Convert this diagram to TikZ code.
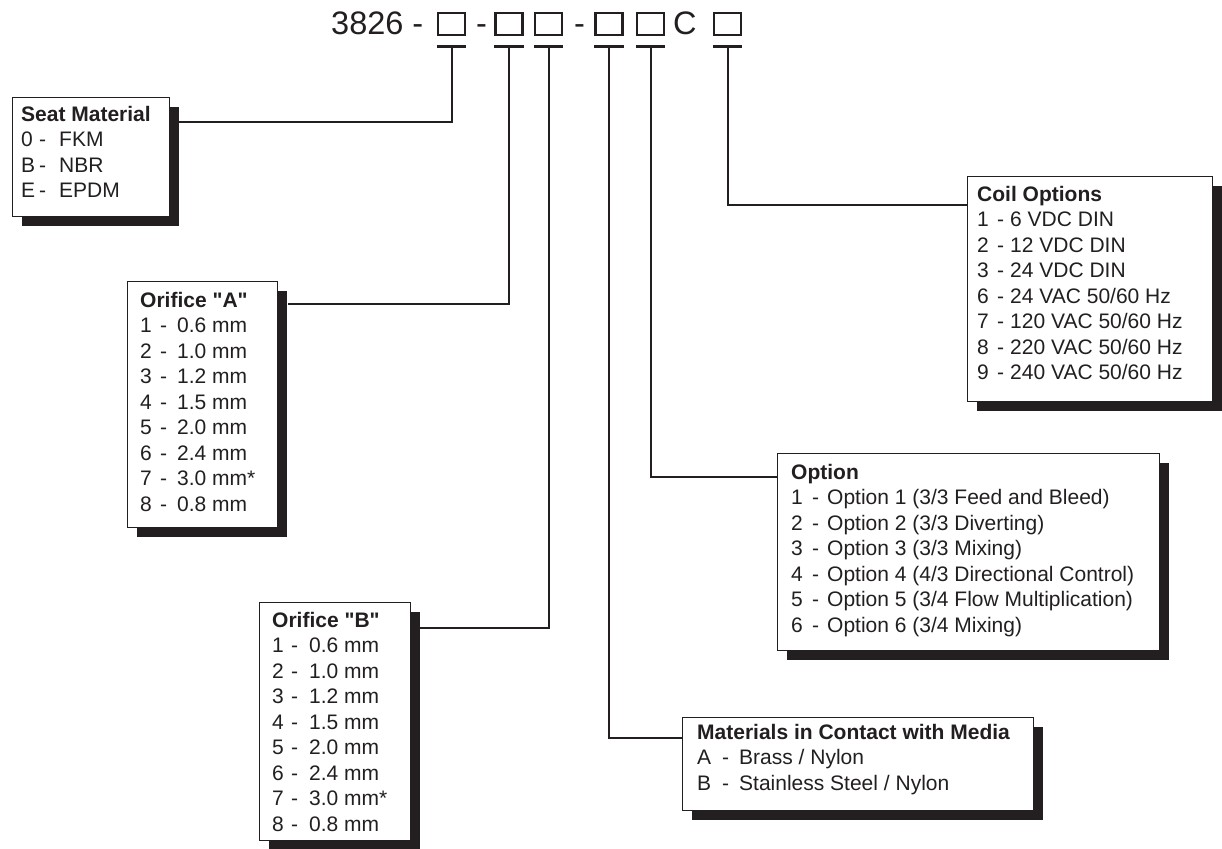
\documentclass[tikz,border=0pt]{standalone}
\usepackage{fontspec}
\setmainfont{Liberation Sans}
\usetikzlibrary{positioning, shadows, calc}
\definecolor{inkgray}{HTML}{231F20}

\newlength\keyw
\newlength\keyg
\newcommand{\sel}[2]{\makebox[\keyw][l]{#1}-\hspace{\keyg}#2}

\tikzset{
  listbox/.style={draw=inkgray, line width=1.2pt, fill=white, anchor=north west, inner sep=0pt,
    drop shadow={shadow xshift=9pt, shadow yshift=-9pt, opacity=1, fill=inkgray}},
  listtext/.style 2 args={anchor=north west, align=left, inner sep=0pt, text=inkgray,
    font=\fontsize{21}{25.5}\selectfont,
    execute at begin node={\setlength{\keyw}{#1}\setlength{\keyg}{#2}}},
  codebox/.style={draw=inkgray, line width=2.2pt, minimum width=27pt, minimum height=22pt, inner sep=0pt},
  codetext/.style={anchor=base west, inner sep=0pt, text=inkgray, font=\fontsize{32.5}{38}\selectfont},
  leader/.style={draw=inkgray, line width=2pt},
  tbar/.style={draw=inkgray, line width=3pt}
}

\begin{document}
\begin{tikzpicture}[x=1pt, y=-1pt]
  \useasboundingbox (0,0) rectangle (1222,848);

  % Bestellschluessel oben
  \node[codetext] (code) at (331,35) {3826 -};
  \node[codebox] (sq1) at (451.5,24) {};
  \node[codetext] (dash1) at (476,35) {-};
  \node[codebox] (sq2) at (509,24) {};
  \node[codebox] (sq3) at (548.5,24) {};
  \node[codetext] (dash2) at (574,35) {-};
  \node[codebox] (sq4) at (609,24) {};
  \node[codebox] (sq5) at (650.5,24) {};
  \node[codetext] (coil) at (673,35) {C};
  \node[codebox] (sq6) at (727.5,24) {};

  % T-Balken unter den Feldern
  \foreach \s in {sq1,sq2,sq3,sq4,sq5,sq6}
    \draw[tbar] ([yshift=-10pt]\s.south west) -- ([yshift=-10pt]\s.south east);

  % Kaesten
  \node[listbox, minimum width=157pt, minimum height=119pt] (seat) at (12,97) {};
  \node[listtext={18pt}{13pt}] (seatT) at (21,106) {\textbf{Seat Material}\\
    \sel{0}{FKM}\\ \sel{B}{NBR}\\ \sel{E}{EPDM}};

  \node[listbox, minimum width=150pt, minimum height=246pt] (oriA) at (127,281) {};
  \node[listtext={20pt}{10pt}] (oriAT) at (140,292) {\textbf{Orifice \textquotedbl A\textquotedbl}\\
    \sel{1}{0.6 mm}\\ \sel{2}{1.0 mm}\\ \sel{3}{1.2 mm}\\ \sel{4}{1.5 mm}\\
    \sel{5}{2.0 mm}\\ \sel{6}{2.4 mm}\\ \sel{7}{3.0 mm*}\\ \sel{8}{0.8 mm}};

  \node[listbox, minimum width=151pt, minimum height=238pt] (oriB) at (259,602) {};
  \node[listtext={19pt}{11pt}] (oriBT) at (272,612) {\textbf{Orifice \textquotedbl B\textquotedbl}\\
    \sel{1}{0.6 mm}\\ \sel{2}{1.0 mm}\\ \sel{3}{1.2 mm}\\ \sel{4}{1.5 mm}\\
    \sel{5}{2.0 mm}\\ \sel{6}{2.4 mm}\\ \sel{7}{3.0 mm*}\\ \sel{8}{0.8 mm}};

  \node[listbox, minimum width=245pt, minimum height=225pt] (coilbox) at (967,176) {};
  \node[listtext={20pt}{6pt}] (coilT) at (977,186) {\textbf{Coil Options}\\
    \sel{1}{6 VDC DIN}\\ \sel{2}{12 VDC DIN}\\ \sel{3}{24 VDC DIN}\\
    \sel{6}{24 VAC 50/60 Hz}\\ \sel{7}{120 VAC 50/60 Hz}\\
    \sel{8}{220 VAC 50/60 Hz}\\ \sel{9}{240 VAC 50/60 Hz}};

  \node[listbox, minimum width=382pt, minimum height=197pt] (opt) at (777,453) {};
  \node[listtext={21pt}{8pt}] (optT) at (791,464) {\textbf{Option}\\
    \sel{1}{Option 1 (3/3 Feed and Bleed)}\\ \sel{2}{Option 2 (3/3 Diverting)}\\
    \sel{3}{Option 3 (3/3 Mixing)}\\ \sel{4}{Option 4 (4/3 Directional Control)}\\
    \sel{5}{Option 5 (3/4 Flow Multiplication)}\\ \sel{6}{Option 6 (3/4 Mixing)}};

  \node[listbox, minimum width=351pt, minimum height=93pt] (mat) at (682,717) {};
  \node[listtext={25pt}{10pt}] (matT) at (697,724) {\textbf{Materials in Contact with Media}\\
    \sel{A}{Brass / Nylon}\\ \sel{B}{Stainless Steel / Nylon}};

  % Verbindungslinien
  \draw[leader] ([yshift=-10pt]sq1.south) |- ([xshift=9pt,yshift=-25pt]seat.north east);
  \draw[leader] ([yshift=-10pt]sq2.south) |- ([xshift=10pt,yshift=-23pt]oriA.north east);
  \draw[leader] ([yshift=-10pt]sq3.south) |- ([xshift=8pt,yshift=-26pt]oriB.north east);
  \draw[leader] ([yshift=-10pt]sq4.south) |- ([yshift=-21pt]mat.north west);
  \draw[leader] ([yshift=-10pt]sq5.south) |- ([yshift=-24pt]opt.north west);
  \draw[leader] ([yshift=-10pt]sq6.south) |- ([yshift=-29pt]coilbox.north west);
\end{tikzpicture}
\end{document}
